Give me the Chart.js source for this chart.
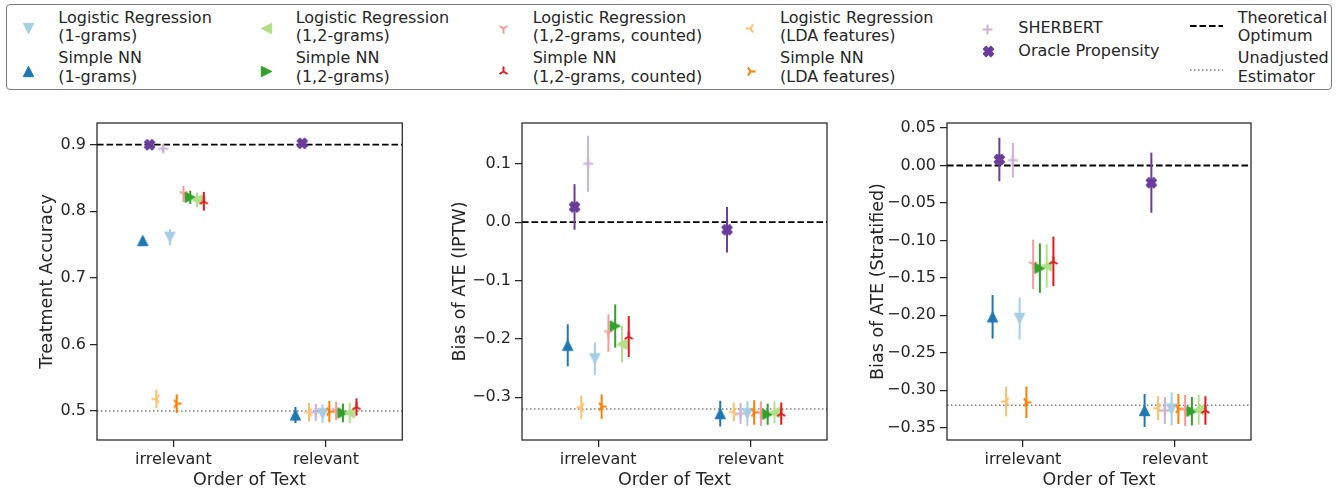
<!DOCTYPE html>
<html><head><meta charset="utf-8">
<script src="https://cdn.jsdelivr.net/npm/chart.js@4.4.0/dist/chart.umd.min.js"></script>
<style>
body{margin:0;width:1341px;height:488px;background:#fff;position:relative;overflow:hidden;font-family:"DejaVu Sans",sans-serif;color:#262626}
canvas.chart{position:absolute}
#legendBox{position:absolute;left:6px;top:4px;width:1326px;height:86px;border:1.3px solid #7a7a7a;border-radius:4px;box-sizing:border-box}
.lt{position:absolute;font-size:16px;line-height:18.3px;white-space:pre;font-family:"DejaVu Sans",sans-serif;color:#262626}
.lm{position:absolute}
</style></head><body>
<div id="legendBox"></div>
<canvas class="chart" id="c1" width="420" height="393" style="left:0px;top:95px"></canvas>
<canvas class="chart" id="c2" width="420" height="393" style="left:420px;top:95px"></canvas>
<canvas class="chart" id="c3" width="501" height="393" style="left:840px;top:95px"></canvas>
<script>
// ---------------- data ----------------
const categories = ['irrelevant', 'relevant'];
const seriesLabels = [
  'Simple NN\n(1-grams)',
  'Oracle Propensity',
  'Logistic Regression\n(LDA features)',
  'SHERBERT',
  'Logistic Regression\n(1-grams)',
  'Simple NN\n(LDA features)',
  'Logistic Regression\n(1,2-grams, counted)',
  'Simple NN\n(1,2-grams)',
  'Logistic Regression\n(1,2-grams)',
  'Simple NN\n(1,2-grams, counted)'
];
const seriesColors = ['#1f78b4','#6a3d9a','#fdbf6f','#cab2d6','#a6cee3','#ff7f00','#fb9a99','#33a02c','#b2df8a','#e31a1c'];
const seriesMarkers = ['^','X','3','+','v','4','1','>','<','2'];
const refLabels = ['Theoretical\nOptimum', 'Unadjusted\nEstimator'];

// Treatment accuracy
const accIrrelevant    = [0.756, 0.900, 0.518, 0.894, 0.761, 0.511, 0.826, 0.821, 0.817, 0.815];
const accIrrelevantErr = [0.005, 0.004, 0.014, 0.005, 0.012, 0.014, 0.012, 0.010, 0.011, 0.014];
const accRelevant      = [0.494, 0.902, 0.498, 0.498, 0.496, 0.499, 0.500, 0.497, 0.497, 0.506];
const accRelevantErr   = [0.012, 0.004, 0.014, 0.013, 0.014, 0.016, 0.014, 0.014, 0.015, 0.013];
const accOptimum = 0.9, accUnadjusted = 0.5;
const accTicks = [0.5, 0.6, 0.7, 0.8, 0.9];

// Bias of ATE (IPTW)
const iptwIrrelevant    = [-0.211, 0.026, -0.317, 0.100, -0.234, -0.316, -0.190, -0.178, -0.209, -0.196];
const iptwIrrelevantErr = [0.036, 0.039, 0.020, 0.048, 0.028, 0.021, 0.032, 0.037, 0.031, 0.035];
const iptwRelevant      = [-0.328, -0.013, -0.325, -0.328, -0.328, -0.326, -0.328, -0.329, -0.326, -0.328];
const iptwRelevantErr   = [0.022, 0.039, 0.016, 0.018, 0.021, 0.021, 0.021, 0.018, 0.019, 0.019];
const iptwOptimum = 0.0, iptwUnadjusted = -0.32;
const iptwTicks = [-0.3, -0.2, -0.1, 0.0, 0.1];

// Bias of ATE (Stratified)
const stratIrrelevant    = [-0.202, 0.008, -0.315, 0.007, -0.204, -0.316, -0.132, -0.137, -0.134, -0.128];
const stratIrrelevantErr = [0.029, 0.029, 0.020, 0.023, 0.028, 0.021, 0.033, 0.033, 0.029, 0.033];
const stratRelevant      = [-0.327, -0.023, -0.324, -0.327, -0.325, -0.325, -0.327, -0.328, -0.326, -0.327];
const stratRelevantErr   = [0.022, 0.040, 0.016, 0.018, 0.022, 0.020, 0.021, 0.019, 0.020, 0.019];
const stratOptimum = 0.0, stratUnadjusted = -0.32;
const stratTicks = [-0.35, -0.30, -0.25, -0.20, -0.15, -0.10, -0.05, 0.00, 0.05];

// ---------------- markers ----------------
function drawMarker(ctx, shape, color, cx, cy) {
  ctx.save();
  ctx.translate(cx, cy);
  ctx.fillStyle = color; ctx.strokeStyle = color;
  ctx.lineCap = 'butt'; ctx.lineJoin = 'round';
  const L = 10, r = L / 2;
  const poly = (pts, lw) => { ctx.beginPath(); pts.forEach((p, i) => i ? ctx.lineTo(p[0], p[1]) : ctx.moveTo(p[0], p[1])); ctx.closePath(); ctx.fill(); ctx.lineWidth = lw; ctx.stroke(); };
  const arms = pts => { ctx.lineWidth = 2; ctx.beginPath(); pts.forEach(p => { ctx.moveTo(0, 0); ctx.lineTo(p[0] * r, p[1] * r); }); ctx.stroke(); };
  const h = 10.4 / 2;
  if (shape === '^') poly([[0,-h],[h,h],[-h,h]], 1);
  else if (shape === 'v') poly([[0,h],[h,-h],[-h,-h]], 1);
  else if (shape === '<') poly([[-h,0],[h,-h],[h,h]], 1);
  else if (shape === '>') poly([[h,0],[-h,-h],[-h,h]], 1);
  else if (shape === 'X') {
    const F = 9.6;
    const v = [[0.25,0],[0.5,0.25],[0.75,0],[1,0.25],[0.75,0.5],[1,0.75],[0.75,1],[0.5,0.75],[0.25,1],[0,0.75],[0.25,0.5],[0,0.25]];
    poly(v.map(p => [(p[0] - 0.5) * F, (p[1] - 0.5) * F]), 1.8);
  }
  else if (shape === '+') { ctx.lineWidth = 2; ctx.beginPath(); ctx.moveTo(-r,0); ctx.lineTo(r,0); ctx.moveTo(0,-r); ctx.lineTo(0,r); ctx.stroke(); }
  else if (shape === '1') arms([[0,1],[0.8,-0.5],[-0.8,-0.5]]);
  else if (shape === '2') arms([[0,-1],[0.8,0.5],[-0.8,0.5]]);
  else if (shape === '3') arms([[-1,0],[0.5,-0.8],[0.5,0.8]]);
  else if (shape === '4') arms([[1,0],[-0.5,-0.8],[-0.5,0.8]]);
  ctx.restore();
}
function markerCanvas(shape, color) {
  const c = document.createElement('canvas');
  c.width = 15; c.height = 15;
  drawMarker(c.getContext('2d'), shape, color, 7.5, 7.5);
  return c;
}

// ---------------- plugins ----------------
const errorBarPlugin = {
  id: 'errorBars',
  beforeDatasetDraw(chart, args) {
    const ds = chart.data.datasets[args.index];
    if (!ds.errs) return;
    const xs = chart.scales.x, ys = chart.scales.y, ctx = chart.ctx;
    ctx.save();
    ctx.strokeStyle = ds.borderColor; ctx.lineWidth = 2;
    ds.data.forEach((p, j) => {
      const e = ds.errs[j];
      const x = xs.getPixelForValue(p.x);
      ctx.beginPath();
      ctx.moveTo(x, ys.getPixelForValue(p.y - e));
      ctx.lineTo(x, ys.getPixelForValue(p.y + e));
      ctx.stroke();
    });
    ctx.restore();
  }
};
const framePlugin = {
  id: 'frame',
  afterDraw(chart) {
    const a = chart.chartArea, ctx = chart.ctx;
    ctx.save(); ctx.strokeStyle = '#262626'; ctx.lineWidth = 1.25;
    ctx.strokeRect(a.left, a.top, a.right - a.left, a.bottom - a.top);
    ctx.restore();
  }
};

const FONT = 'DejaVu Sans';
const TXT = '#262626';
const dodge = 0.4;
function fmt(v, d) { return v.toFixed(d).replace('-', '\u2212'); }

function buildChart(id, cfg) {
  const datasets = [];
  seriesLabels.forEach((lab, i) => {
    const off = (i - 4.5) * dodge / 9;
    datasets.push({
      type: 'scatter', label: lab,
      data: [{x: 0 + off, y: cfg.irr[i]}, {x: 1 + off, y: cfg.rel[i]}],
      errs: [cfg.irrErr[i], cfg.relErr[i]],
      pointStyle: markerCanvas(seriesMarkers[i], seriesColors[i]),
      pointRadius: 5, borderColor: seriesColors[i], backgroundColor: seriesColors[i],
      order: 10 - i
    });
  });
  datasets.push({
    type: 'line', label: refLabels[0],
    data: [{x: -0.5, y: cfg.optimum}, {x: 1.5, y: cfg.optimum}],
    borderColor: '#000', borderWidth: 1.8, borderDash: [6.6, 2.9], pointRadius: 0, order: 50
  });
  datasets.push({
    type: 'line', label: refLabels[1],
    data: [{x: -0.5, y: cfg.unadjusted}, {x: 1.5, y: cfg.unadjusted}],
    borderColor: '#7f7f7f', borderWidth: 1.5, borderDash: [1.5, 2.5], pointRadius: 0, order: 51
  });
  return new Chart(document.getElementById(id), {
    data: { datasets },
    plugins: [errorBarPlugin, framePlugin],
    options: {
      responsive: false, animation: false, events: [],
      layout: { padding: { left: 0, top: 28, right: cfg.padRight, bottom: 0 } },
      plugins: { legend: { display: false }, tooltip: { enabled: false } },
      scales: {
        x: {
          type: 'linear', min: -0.5, max: 1.5,
          afterBuildTicks: s => { s.ticks = [0, 1].map(v => ({ value: v })); },
          afterFit: s => { s.height = 48; },
          ticks: { callback: (v, i) => categories[i], color: TXT, font: { family: FONT, size: 16 }, padding: 3, maxRotation: 0 },
          grid: { drawOnChartArea: false, drawTicks: true, tickLength: 7, color: TXT, lineWidth: 1.25 },
          border: { display: false },
          title: { display: true, text: 'Order of Text', color: TXT, font: { family: FONT, size: 17.5 }, padding: { top: 0, bottom: -2.5 } }
        },
        y: {
          type: 'linear', min: cfg.min, max: cfg.max,
          afterBuildTicks: s => { s.ticks = cfg.ticks.map(v => ({ value: v })); },
          afterFit: s => { s.width = cfg.yWidth; },
          ticks: { callback: v => fmt(v, cfg.dec), color: TXT, font: { family: FONT, size: 16 }, padding: 4 },
          grid: { drawOnChartArea: false, drawTicks: true, tickLength: 7, color: TXT, lineWidth: 1.25 },
          border: { display: false },
          title: { display: true, text: cfg.title, color: TXT, font: { family: FONT, size: 17.5 }, padding: { top: cfg.titlePad, bottom: 0 } }
        }
      }
    }
  });
}

buildChart('c1', { irr: accIrrelevant, irrErr: accIrrelevantErr, rel: accRelevant, relErr: accRelevantErr,
  optimum: accOptimum, unadjusted: accUnadjusted, ticks: accTicks, dec: 1, min: 0.4564, max: 0.9326,
  title: 'Treatment Accuracy', yWidth: 97, padRight: 17.7, titlePad: 36.5 });
buildChart('c2', { irr: iptwIrrelevant, irrErr: iptwIrrelevantErr, rel: iptwRelevant, relErr: iptwRelevantErr,
  optimum: iptwOptimum, unadjusted: iptwUnadjusted, ticks: iptwTicks, dec: 1, min: -0.3732, max: 0.1698,
  title: 'Bias of ATE (IPTW)', yWidth: 102, padRight: 13, titlePad: 29.5 });
buildChart('c3', { irr: stratIrrelevant, irrErr: stratIrrelevantErr, rel: stratRelevant, relErr: stratRelevantErr,
  optimum: stratOptimum, unadjusted: stratUnadjusted, ticks: stratTicks, dec: 2, min: -0.3664, max: 0.0567,
  title: 'Bias of ATE (Stratified)', yWidth: 107, padRight: 90, titlePad: 27.5 });

// ---------------- legend ----------------
function addText(txt, x, top) {
  const d = document.createElement('div');
  d.className = 'lt'; d.textContent = txt;
  d.style.left = x + 'px'; d.style.top = top + 'px';
  document.body.appendChild(d);
}
function addMarker(i, cx, cy) {
  const c = markerCanvas(seriesMarkers[i], seriesColors[i]);
  c.className = 'lm';
  c.style.left = (cx - 7.5) + 'px'; c.style.top = (cy - 7.5) + 'px';
  document.body.appendChild(c);
}
const legendCols = [
  { tx: 58.3, mx: 28.8, items: [4, 0] },
  { tx: 295.7, mx: 266.5, items: [8, 7] },
  { tx: 532.7, mx: 503, items: [6, 9] },
  { tx: 780, mx: 750.5, items: [2, 5] }
];
const rowTop = [8.6, 49.3], rowMark = [28.8, 71];
legendCols.forEach(col => {
  col.items.forEach((idx, r) => {
    addText(seriesLabels[idx], col.tx, rowTop[r]);
    addMarker(idx, col.mx, rowMark[r]);
  });
});
addText(seriesLabels[3], 1018.3, 18.6); addMarker(3, 987.5, 29.3);
addText(seriesLabels[1], 1018.3, 42); addMarker(1, 988.5, 51.7);
addText(refLabels[0], 1237.7, rowTop[0]);
addText(refLabels[1], 1237.7, rowTop[1]);
(function () {
  const c = document.createElement('canvas');
  c.width = 40; c.height = 60; c.className = 'lm';
  c.style.left = '1187px'; c.style.top = '16px';
  const ctx = c.getContext('2d');
  ctx.strokeStyle = '#000'; ctx.lineWidth = 1.8; ctx.setLineDash([6.6, 2.9]);
  ctx.beginPath(); ctx.moveTo(3, 10); ctx.lineTo(36, 10); ctx.stroke();
  ctx.strokeStyle = '#7f7f7f'; ctx.lineWidth = 1.5; ctx.setLineDash([1.5, 2.5]);
  ctx.beginPath(); ctx.moveTo(3, 54); ctx.lineTo(36, 54); ctx.stroke();
  document.body.appendChild(c);
})();
</script>
</body></html>
